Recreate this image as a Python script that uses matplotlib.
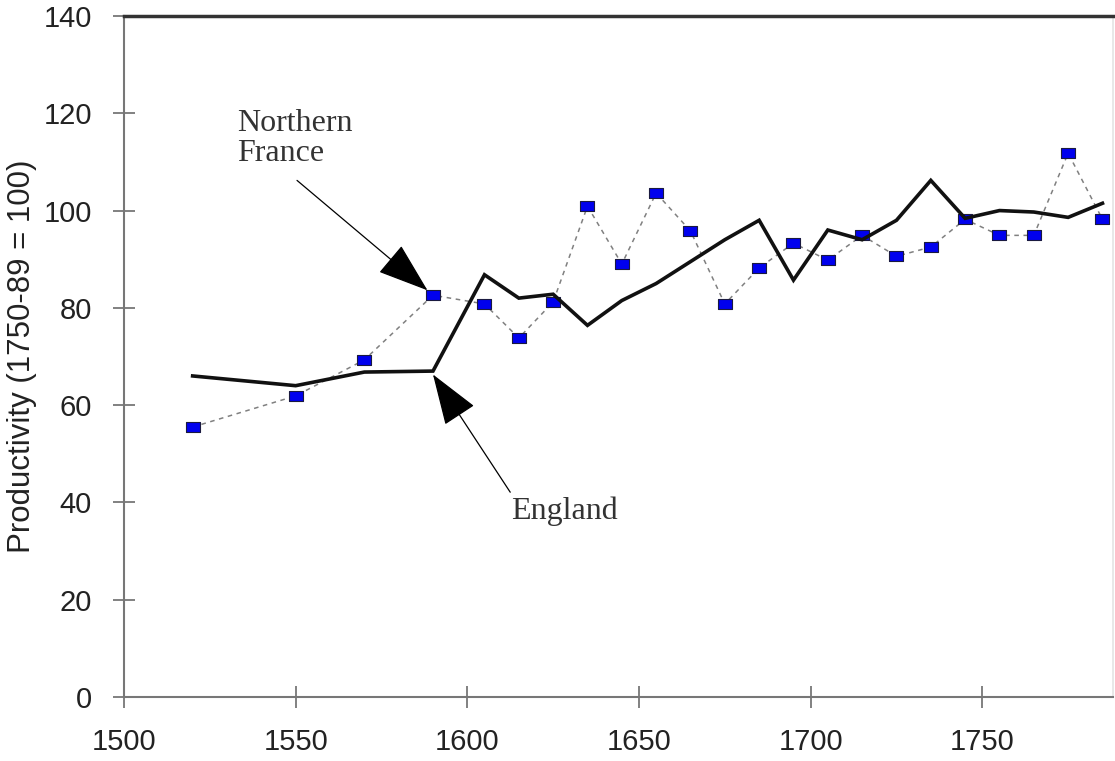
import numpy as np
import matplotlib
matplotlib.use("Agg")
import matplotlib.pyplot as plt

plt.rcParams['font.family'] = ['Liberation Sans', 'DejaVu Sans']

# England (solid line)
eng_years = [1520, 1550, 1570, 1590, 1605, 1615, 1625, 1635, 1645, 1655, 1665, 1675,
             1685, 1695, 1705, 1715, 1725, 1735, 1745, 1755, 1765, 1775, 1785]
eng_vals = [66.0, 64.0, 66.8, 67.0, 86.8, 82.0, 82.8, 76.4, 81.5, 85.0, 89.5, 94.0,
            98.0, 85.7, 96.0, 94.0, 98.0, 106.2, 98.4, 100.0, 99.7, 98.6, 101.5]

# Northern France (blue squares, dotted)
fra_years = [1520, 1550, 1570, 1590, 1605, 1615, 1625, 1635, 1645, 1655, 1665, 1675,
             1685, 1695, 1705, 1715, 1725, 1735, 1745, 1755, 1765, 1775, 1785]
fra_vals = [55.5, 61.9, 69.3, 82.6, 80.8, 73.8, 81.2, 100.9, 89.0, 103.6, 95.8, 80.8,
            88.2, 93.3, 89.8, 94.9, 90.6, 92.5, 98.2, 94.9, 94.9, 111.8, 98.2]

x_ticks = [1500, 1550, 1600, 1650, 1700, 1750]
y_ticks = [0, 20, 40, 60, 80, 100, 120, 140]

fig = plt.figure(figsize=(11.15, 7.61), dpi=100)
ax = fig.add_axes([0.1112, 0.0841, 0.8868, 0.8949])

rect = [(-1.4, -1), (1.4, -1), (1.4, 1), (-1.4, 1), (-1.4, -1)]
ax.plot(fra_years, fra_vals, color="#808080", lw=1.1, linestyle=(0, (3, 3)),
        marker=rect, markersize=10.5, markerfacecolor="#0000ee",
        markeredgecolor="#1a1a40", markeredgewidth=0.8, zorder=3)
ax.plot(eng_years, eng_vals, color="#111111", lw=2.6, zorder=4,
        solid_joinstyle="miter")

ax.set_xlim(1500, 1788)
ax.set_ylim(0, 140)
ax.set_xticks(x_ticks)
ax.set_yticks(y_ticks)

for s in ["left", "bottom"]:
    ax.spines[s].set_color("#777777")
    ax.spines[s].set_linewidth(1.5)
ax.spines["top"].set_color("#333333")
ax.spines["top"].set_linewidth(2.5)
ax.spines["right"].set_color("#e4e4e4")
ax.spines["right"].set_linewidth(1.2)

ax.tick_params(axis="both", direction="inout", length=16, width=1.3,
               colors="#777777", labelcolor="#222222", labelsize=21)
ax.tick_params(axis="x", pad=14)
ax.tick_params(axis="y", pad=15)

ax.set_ylabel("Productivity (1750-89 = 100)", fontsize=22.5, color="#222222",
              labelpad=5)

serif = ["Liberation Serif", "DejaVu Serif"]
ax.text(1533.0, 120.8, "Northern\nFrance", family=serif, fontsize=23,
        color="#333333", ha="left", va="top", linespacing=1.05)
ax.text(1612.8, 36.5, "England", family=serif, fontsize=23,
        color="#333333", ha="left", va="baseline")

arrow = dict(arrowstyle="-|>,head_length=3.3,head_width=1.15", mutation_scale=10,
             color="black", lw=0.9, shrinkA=0, shrinkB=0)
ax.annotate("", xy=(1588.4, 83.6), xytext=(1550.4, 106.2), arrowprops=arrow)
ax.annotate("", xy=(1590.0, 66.3), xytext=(1612.5, 42.1), arrowprops=arrow)

fig.savefig("out.png", dpi=100)
